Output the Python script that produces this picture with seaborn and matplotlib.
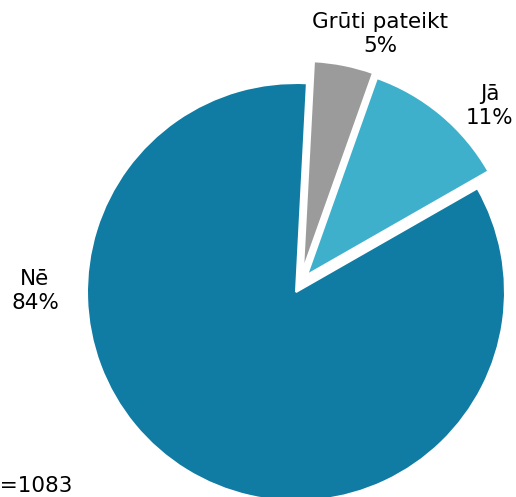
import matplotlib
matplotlib.use('Agg')
import matplotlib.pyplot as plt
import seaborn as sns

# dati
labels = ['Nē', 'Jā', 'Grūti pateikt']
values = [84.1, 11.3, 4.6]
pct_labels = ['84%', '11%', '5%']
n_text = 'n=1083'

sns.set_theme(style='white')
plt.rcParams['font.family'] = ['DejaVu Sans']

colors = ['#107ba3', '#3eb0cc', '#9b9b9b']

fig = plt.figure(figsize=(5.16, 4.97), dpi=100)
ax = fig.add_axes([0, 0, 1, 1])

# pixel koordinātes (y uz augšu)
cx, cy, r = 296, 497 - 292, 209
wedges, _ = ax.pie(values, colors=colors, startangle=87, counterclock=True,
                   center=(cx, cy), radius=r,
                   wedgeprops=dict(edgecolor='white', linewidth=1.5))

# izvirzītie sektori (nobīde pikseļos)
shifts = [(0, 0), (11, 17), (7, 22)]
for w, (dx, dy) in zip(wedges, shifts):
    w.set_center((cx + dx, cy + dy))

ax.set_xlim(0, 516)
ax.set_ylim(0, 497)
ax.set_aspect('equal')
ax.axis('off')

# etiķetes
lbl_pos = [(35, 497 - 291), (490, 497 - 106), (380, 497 - 34)]
for lab, pct, (x, y) in zip(labels, pct_labels, lbl_pos):
    ax.text(x, y, f'{lab}\n{pct}', ha='center', va='center',
            fontsize=15.5, color='black', linespacing=1.3)

ax.text(-14, 497 - 492, n_text, ha='left', va='baseline', fontsize=15.5,
        color='black')

fig.savefig('out.png', dpi=100)
